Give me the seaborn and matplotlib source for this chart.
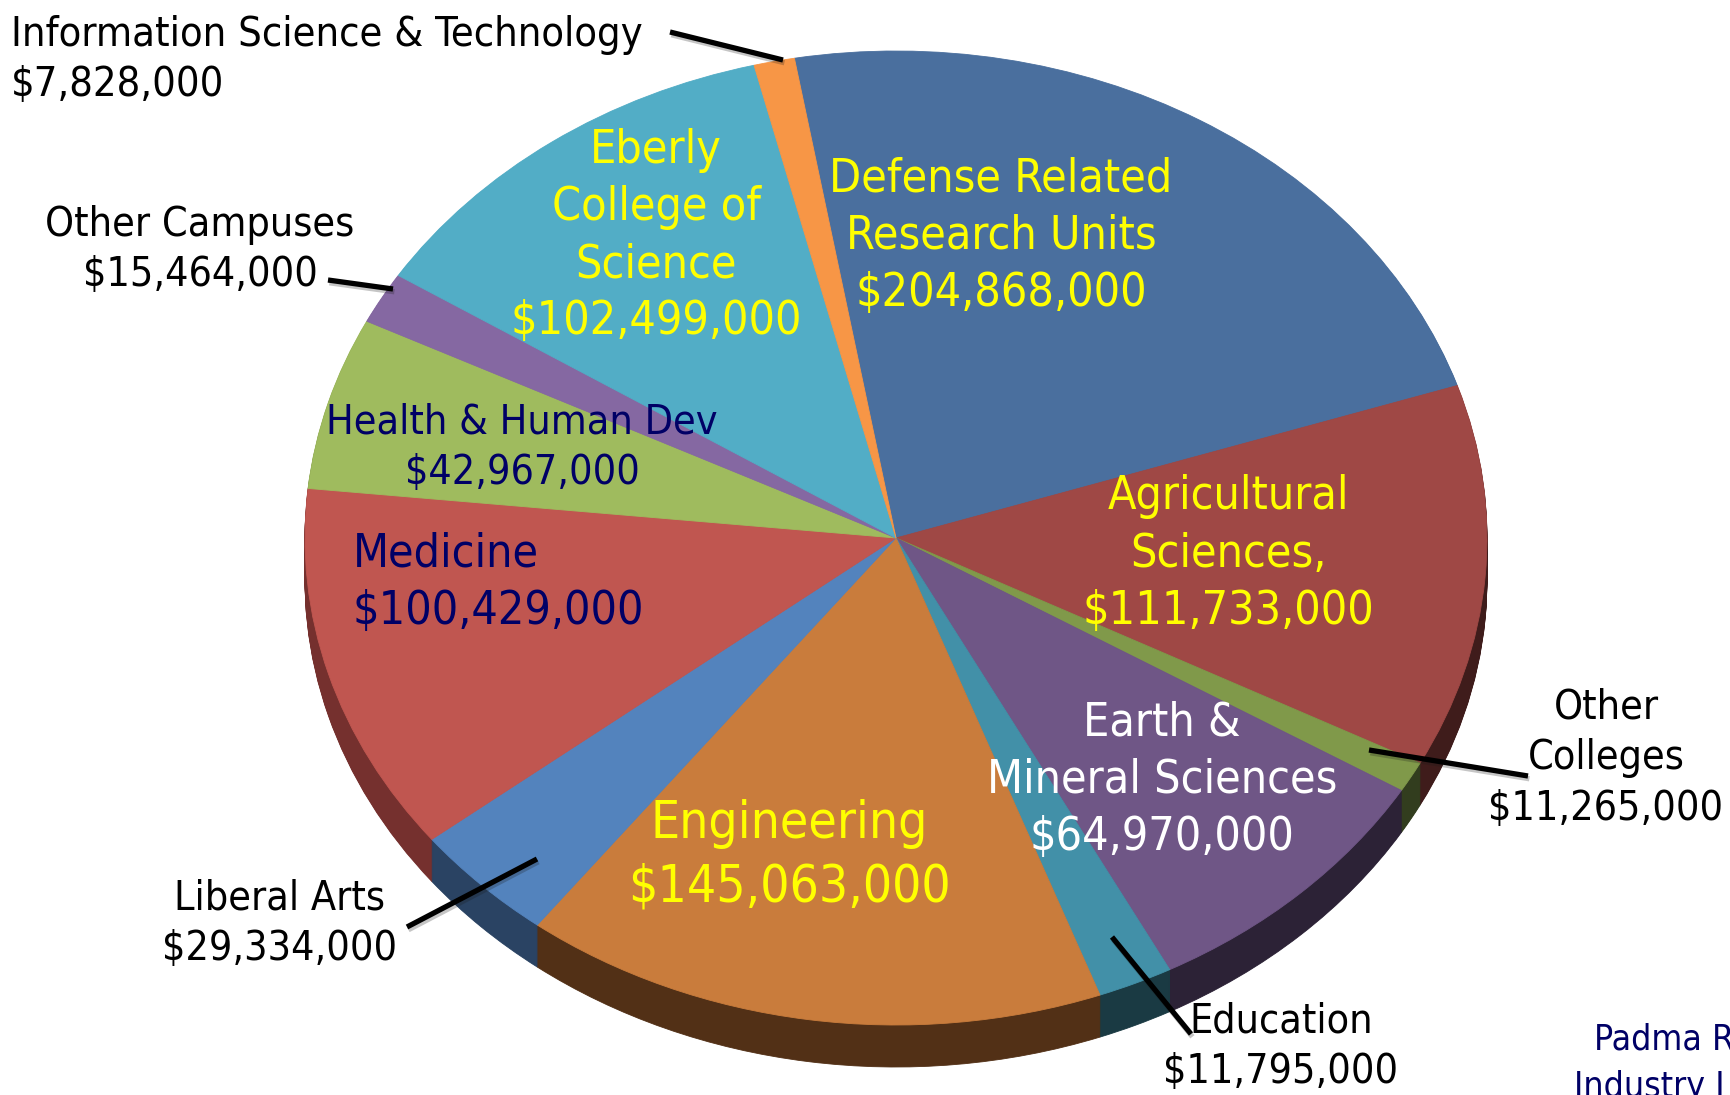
import matplotlib.pyplot as plt
import matplotlib.patheffects as pe
import seaborn as sns

sns.set_theme(style="white")
plt.rcParams["font.family"] = "DejaVu Sans"
plt.rcParams["font.stretch"] = "condensed"

units = ["Defense Related Research Units", "Agricultural Sciences", "Other Colleges",
         "Earth & Mineral Sciences", "Education", "Engineering", "Liberal Arts", "Medicine",
         "Health & Human Dev", "Other Campuses", "Eberly College of Science",
         "Information Science & Technology"]
# slice sizes in degrees as drawn in the picture (the tilted 3D pie is not quite
# proportional to the dollar amounts, which only appear as label text below)
slice_degrees = [81.7, 45.8, 3.7, 31.2, 7.4, 57.6, 14.4, 44.1, 20.6, 6.2, 43.5, 4.0]
top_colors = ["#4A6F9E", "#9F4845", "#80994A", "#6F5686", "#4290A8", "#C97C3C",
              "#5383BD", "#C05650", "#9FBB5E", "#8568A2", "#52ADC6", "#F79646"]
side_colors = ["#2A3F5A", "#3F1C1B", "#323D1E", "#2C2236", "#1A3A43", "#523016",
               "#2A4363", "#75302E", "#5F7038", "#4F3E61", "#316776", "#93592A"]

NAVY = "#000066"
YELLOW = "#FFFF00"
labels = [
    ("Defense Related\nResearch Units\n$204,868,000", 1001, 236, 33.4, YELLOW, "center"),
    ("Eberly\nCollege of\nScience\n$102,499,000", 656, 236, 33.4, YELLOW, "center"),
    ("Agricultural\nSciences,\n$111,733,000", 1228, 554, 33.4, YELLOW, "center"),
    ("Earth &\nMineral Sciences\n$64,970,000", 1162, 780, 33.4, "white", "center"),
    ("Engineering\n$145,063,000", 789, 856, 37, YELLOW, "center"),
    ("Medicine\n$100,429,000", 353, 583, 33.4, NAVY, "left"),
    ("Health & Human Dev\n$42,967,000", 522, 448, 29.5, NAVY, "center"),
    ("Information Science & Technology\n$7,828,000", 11, 60, 29.8, "black", "left"),
    ("Other Campuses\n$15,464,000", 200, 250, 29.5, "black", "center"),
    ("Other\nColleges\n$11,265,000", 1606, 758, 29.5, "black", "center"),
    ("Liberal Arts\n$29,334,000", 280, 924, 29.5, "black", "center"),
    ("Education\n$11,795,000", 1281, 1047, 29.5, "black", "center"),
]
leaders = [((670, 32), (783, 60)), ((328, 280), (393, 289)), ((1369, 750), (1528, 776)),
           ((1112, 937), (1191, 1034)), ((407, 927), (537, 859))]

# pie geometry in pixels
CX, CY, RX, RY, DEPTH = 896, 538, 591, 487, 42

fig = plt.figure(figsize=(17.30, 10.95), dpi=100)
ax = fig.add_axes([0, 0, 1, 1])


def draw_pie(colors, offset):
    wedges, _ = ax.pie(slice_degrees, colors=sns.color_palette(colors), startangle=99.9,
                       counterclock=False, center=(0, -offset / RY), radius=1, normalize=True)
    for w in wedges:
        w.set_edgecolor(w.get_facecolor())
        w.set_linewidth(0.6)


# side wall: dark pies stacked downwards, top face last
for d in range(DEPTH, 0, -1):
    draw_pie(side_colors, d)
draw_pie(top_colors, 0)
ax.set_aspect("auto")
ax.set_xlim(-CX / RX, (1730 - CX) / RX)
ax.set_ylim((CY - 1095) / RY, CY / RY)
ax.axis("off")

# overlay in pixel coordinates for the text and leader lines
ov = fig.add_axes([0, 0, 1, 1])
ov.set_xlim(0, 1730)
ov.set_ylim(1095, 0)
ov.axis("off")
ov.patch.set_alpha(0)

for p0, p1 in leaders:
    ov.plot([p0[0], p1[0]], [p0[1], p1[1]], color="black", lw=3.8, solid_capstyle="butt",
            path_effects=[pe.SimpleLineShadow(offset=(1, -2), alpha=0.25), pe.Normal()])

for text, x, y, size, color, ha in labels:
    ov.text(x, y, text, fontsize=size, color=color, ha=ha, va="center",
            multialignment=ha, linespacing=1.35)

ov.text(1594, 1040, "Padma R", fontsize=25.5, color=NAVY, ha="left", va="center")
ov.text(1574, 1087, "Industry I", fontsize=25.5, color=NAVY, ha="left", va="center")

fig.savefig("out.png", dpi=100)
